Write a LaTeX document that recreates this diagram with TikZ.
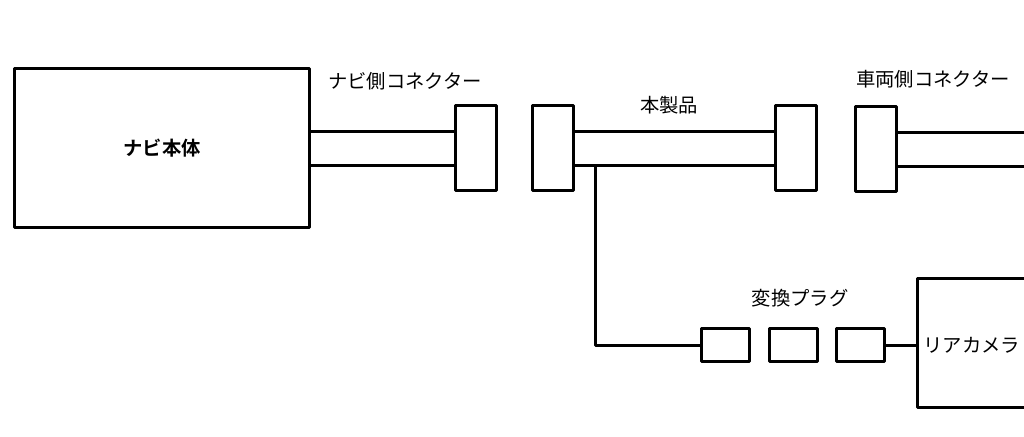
\documentclass[tikz,border=0pt]{standalone}
\usepackage{fontspec}
\newfontfamily\jp{Noto Sans CJK JP}[BoldFont={Noto Sans CJK JP Bold}]
\usetikzlibrary{calc,positioning}

\begin{document}
\begin{tikzpicture}[x=0.02cm,y=-0.02cm,line join=round,line width=0.06cm,
	conn/.style={draw,inner sep=0pt,minimum width=0.82cm,minimum height=1.7cm},
	plug/.style={draw,inner sep=0pt,minimum width=0.96cm,minimum height=0.66cm},
	lbl/.style={inner sep=0pt,font=\jp\fontsize{11}{13}\selectfont}]
		\useasboundingbox (0,0) rectangle (1024,436);
		\node[draw,minimum width=5.92cm,minimum height=3.2cm,inner sep=0pt,font=\jp\bfseries\fontsize{11}{13}\selectfont] (navi) at (162,148) {ナビ本体};
		\node[conn] (navc) at (476,148) {};
		\node[conn] (pl) at (553,148) {};
		\node[conn] (pr) at (796,148) {};
		\node[conn] (vc) at (876,149) {};
		\foreach \n/\x in {p1/725,p2/793,p3/860}{\node[plug] (\n) at (\x,345) {};}
		\coordinate (vend) at (1024,149);
		\coordinate (camtop) at (1024,278);
		\coordinate (camcorner) at (917,407);
		\coordinate (cambot) at (1024,407);
		\coordinate (br) at ($(pl.east)+(20,17)$);
		\foreach \d in {-17,17}{
			\draw ($(navi.east)+(0,\d)$) -- ($(navc.west)+(0,\d)$);
			\draw ($(pl.east)+(0,\d)$) -- ($(pr.west)+(0,\d)$);
			\draw ($(vc.east)+(0,\d)$) -- ($(vend)+(0,\d)$);}
		\draw (br) |- (p1.west);
		\draw (p3.east) -- (p3.east -| camcorner);
		\draw (camtop) -| (camcorner) -- (cambot);
		\node[lbl] (navclbl) at (405,81) {ナビ側コネクター};
		\node[lbl] (prodlbl) at (669,105) {本製品};
		\node[lbl] (vclbl) at (933,79) {車両側コネクター};
		\node[lbl] (pluglbl) at (800,298) {変換プラグ};
		\node[lbl,anchor=west] (cam) at (922,345) {リアカメラ};
\end{tikzpicture}
\end{document}
